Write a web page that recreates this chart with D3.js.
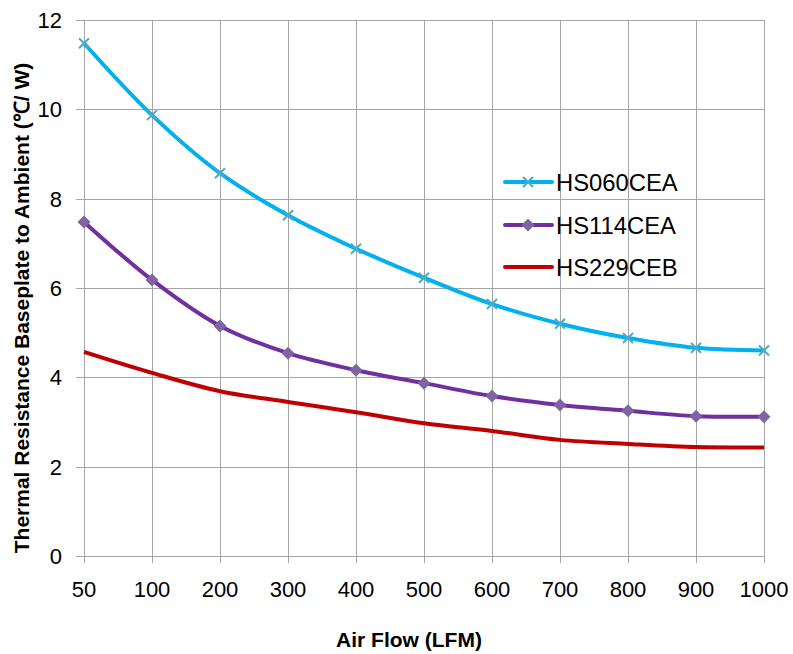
<!DOCTYPE html>
<html>
<head>
<meta charset="utf-8">
<script src="https://cdn.jsdelivr.net/npm/d3@7"></script>
<style>
  body { margin: 0; background: #fff; }
  text { font-family: Arial, "Liberation Sans", sans-serif; fill: #000; }
</style>
</head>
<body>
<div id="chart"></div>
<script>
// data
const airFlow = ['50', '100', '200', '300', '400', '500', '600', '700', '800', '900', '1000'];
const hs060cea = [11.48, 9.87, 8.57, 7.63, 6.88, 6.23, 5.64, 5.2, 4.88, 4.66, 4.6];
const hs114cea = [7.48, 6.18, 5.15, 4.54, 4.16, 3.87, 3.58, 3.38, 3.25, 3.13, 3.12];
const hs229ceb = [4.57, 4.1, 3.69, 3.45, 3.22, 2.97, 2.8, 2.6, 2.51, 2.44, 2.43];
const yTicks = [0, 2, 4, 6, 8, 10, 12];

const series = [
  {name: 'HS060CEA', values: hs060cea, color: '#00B0F0', marker: 'x', markerColor: '#4BACC6'},
  {name: 'HS114CEA', values: hs114cea, color: '#7030A0', marker: 'diamond', markerColor: '#8064A2'},
  {name: 'HS229CEB', values: hs229ceb, color: '#C00000', marker: 'none', markerColor: '#C00000'}
];

const width = 793, height = 654;
const margin = {left: 84, right: 29, top: 20, bottom: 98};

const svg = d3.select('#chart')
  .append('svg')
    .attr('width', width)
    .attr('height', height);

const x = d3.scalePoint()
  .domain(airFlow)
  .range([margin.left, width - margin.right])
  .padding(0);

const y = d3.scaleLinear()
  .domain([0, 12])
  .range([height - margin.bottom, margin.top]);

// Gridlines
const grid = svg.append('g').attr('stroke', '#A6A6A6').attr('stroke-width', 1);
grid.selectAll('.hgrid')
  .data(yTicks)
  .join('line')
    .attr('x1', margin.left - 8)
    .attr('x2', width - margin.right)
    .attr('y1', d => Math.round(y(d)) + 0.5)
    .attr('y2', d => Math.round(y(d)) + 0.5);
grid.selectAll('.vgrid')
  .data(airFlow)
  .join('line')
    .attr('x1', d => Math.round(x(d)) + 0.5)
    .attr('x2', d => Math.round(x(d)) + 0.5)
    .attr('y1', margin.top)
    .attr('y2', height - margin.bottom + 7);

// Tick labels
svg.append('g')
  .selectAll('text')
  .data(yTicks)
  .join('text')
    .attr('x', 62)
    .attr('y', d => y(d))
    .attr('dy', '0.36em')
    .attr('text-anchor', 'end')
    .style('font-size', '22px')
    .text(d => d);

svg.append('g')
  .selectAll('text')
  .data(airFlow)
  .join('text')
    .attr('x', d => x(d))
    .attr('y', 597)
    .attr('text-anchor', 'middle')
    .style('font-size', '22px')
    .text(d => d);

// Axis titles
svg.append('text')
  .attr('x', 409)
  .attr('y', 647)
  .attr('text-anchor', 'middle')
  .style('font-size', '21px')
  .style('font-weight', 'bold')
  .text('Air Flow (LFM)');

svg.append('text')
  .attr('transform', 'translate(29, 308) rotate(-90)')
  .attr('text-anchor', 'middle')
  .style('font-size', '21px')
  .style('font-weight', 'bold')
  .text('Thermal Resistance Baseplate to Ambient (℃/ W)');

// Lines
const line = d3.line()
  .x((d, i) => x(airFlow[i]))
  .y(d => y(d))
  .curve(d3.curveCatmullRom.alpha(0.5));

const drawMarker = function(g, type, color, cx, cy){
  if (type === 'x'){
    const s = 5;
    g.append('path')
      .attr('d', `M${cx - s},${cy - s}L${cx + s},${cy + s}M${cx - s},${cy + s}L${cx + s},${cy - s}`)
      .attr('stroke', color)
      .attr('stroke-width', 2)
      .attr('fill', 'none');
  } else if (type === 'diamond'){
    const s = 6.5;
    g.append('path')
      .attr('d', `M${cx},${cy - s}L${cx + s},${cy}L${cx},${cy + s}L${cx - s},${cy}Z`)
      .attr('fill', color);
  }
};

series.forEach(s => {
  svg.append('path')
    .datum(s.values)
    .attr('d', line)
    .attr('fill', 'none')
    .attr('stroke', s.color)
    .attr('stroke-width', 4);
  const g = svg.append('g');
  s.values.forEach((v, i) => drawMarker(g, s.marker, s.markerColor, x(airFlow[i]), y(v)));
});

// Legend
const legendRows = [182, 225, 267];
series.forEach((s, i) => {
  const ly = legendRows[i];
  svg.append('line')
    .attr('x1', 505)
    .attr('x2', 552)
    .attr('y1', ly)
    .attr('y2', ly)
    .attr('stroke', s.color)
    .attr('stroke-width', 4)
    .attr('stroke-linecap', 'round');
  drawMarker(svg.append('g'), s.marker, s.markerColor, 528, ly);
  svg.append('text')
    .attr('x', 556)
    .attr('y', ly)
    .attr('dy', '0.36em')
    .style('font-size', '23.8px')
    .text(s.name);
});
</script>
</body>
</html>
